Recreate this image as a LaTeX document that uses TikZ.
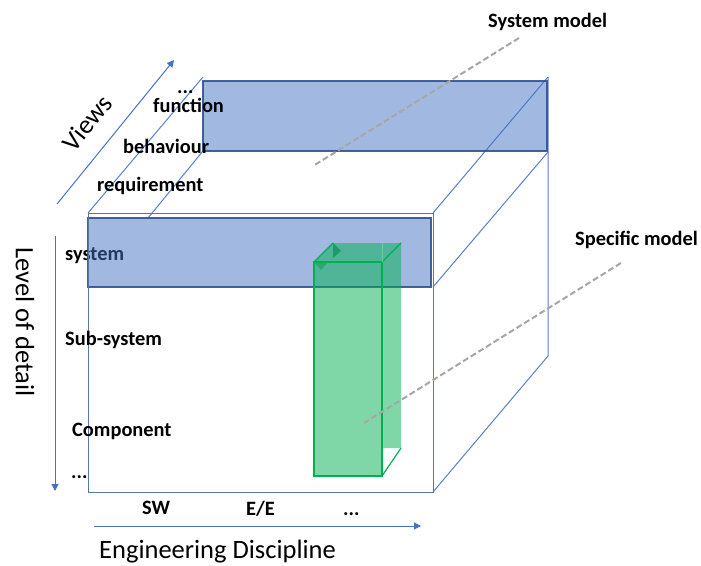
\documentclass[tikz,border=0pt]{standalone}
\usepackage{fontspec}
\setmainfont{Carlito}
\usetikzlibrary{arrows.meta}
\definecolor{cubeblue}{HTML}{4472C4}
\definecolor{bandedge}{HTML}{2F528F}
\definecolor{grn}{HTML}{00B050}
\definecolor{dashgray}{HTML}{A6A6A6}
\begin{document}
\begin{tikzpicture}[x=1pt,y=-1pt,
  cubeline/.style={draw=cubeblue!90, line width=1pt},
  band/.style={fill=cubeblue, fill opacity=0.5, draw=bandedge, draw opacity=0.9, line width=1.2pt},
  greenbox/.style={fill=grn, fill opacity=0.5},
  greenedge/.style={draw=grn, line width=1.2pt},
  leader/.style={draw=dashgray, line width=2pt, dash pattern=on 6pt off 3pt},
  axisarrow/.style={draw=cubeblue, line width=1pt, -{Triangle[length=7pt,width=7pt]}},
  lbl/.style={font=\fontsize{20.4}{24}\selectfont\bfseries, inner sep=0pt, anchor=base west},
  axlbl/.style={font=\fontsize{26.5}{30}\selectfont, inner sep=0pt},
]
\useasboundingbox (0,0) rectangle (701,565);
% cube corners
\coordinate (FTL) at (88,213);
\coordinate (FTR) at (433,213);
\coordinate (FBR) at (433,492);
\coordinate (FBL) at (88,492);
\coordinate (BTL) at (203,77);
\coordinate (BTR) at (548,77);
\coordinate (BBR) at (548,356);
\coordinate (BML) at (203,151);
\coordinate (BMR) at (548,152);
\coordinate (FML) at (148,218);
\coordinate (FMR) at (433,287);
% cube edges
\draw[cubeline] (FTL) -- (BTL);
\draw[cubeline] (FML) -- (BML);
\draw[cubeline] (FTR) -- (BTR);
\draw[cubeline] (FMR) -- (BMR);
\draw[cubeline] (BTR) -- (BBR) -- (FBR);
% text under the front band
\node[lbl] (sys) at (65,260) {system};
% bands
\path[band] (88,218) rectangle (431,287);
\path[band] (203,81) rectangle (547,151);
% green specific model box
\fill[greenbox] (314,262) -- (333,243) -- (401,243) -- (401,448) -- (382,448) -- (382,476) -- (314,476) -- cycle;
\fill[grn!80!black, opacity=0.6] (333,243) -- (341,251) -- (333,258) -- cycle;
\fill[grn!80!black, opacity=0.4] (314,262) -- (328,262) -- (321,270) -- cycle;
\draw[greenedge] (314,262) rectangle (382,476);
\draw[greenedge] (314,262) -- (333,243);
\draw[greenedge] (382,262) -- (401,243);
\draw[greenedge] (382,476) -- (401,448);
\draw[grn!60, line width=0.6pt] (382,243) -- (382,262);
% front face
\draw[draw=bandedge!80, line width=0.9pt] (FTL) rectangle (FBR);
% leaders
\coordinate (smA) at (519,38);
\coordinate (smB) at (313,166);
\coordinate (spA) at (621,263);
\coordinate (spB) at (364,423);
\draw[leader] (smA) -- (smB);
\draw[leader] (spA) -- (spB);
% axes
\coordinate (vA) at (57,204);
\coordinate (vB) at (174,60);
\coordinate (lA) at (55,236);
\coordinate (lB) at (55,491);
\coordinate (eA) at (94,526);
\coordinate (eB) at (421,526);
\draw[axisarrow] (vA) -- (vB);
\draw[axisarrow] (lA) -- (lB);
\draw[axisarrow] (eA) -- (eB);
% labels
\node[lbl] (vdots) at (177,93) {...};
\node[lbl] (func) at (153,112) {function};
\node[lbl] (beh) at (123,153) {behaviour};
\node[lbl] (req) at (97,191) {requirement};
\node[lbl] (subs) at (65,345) {Sub-system};
\node[lbl] (comp) at (72,436) {Component};
\node[lbl] (ldots) at (71,478) {...};
\node[lbl] (sw) at (142,514) {SW};
\node[lbl] (ee) at (246,515) {E/E};
\node[lbl] (edots) at (343,515) {...};
\node[lbl] (sysm) at (488,27) {System model};
\node[lbl] (spec) at (575,245) {Specific model};
\node[axlbl, anchor=base west] (eng) at (99,558) {Engineering Discipline};
\node[axlbl, rotate=-90, anchor=base west] (lod) at (16,247) {Level of detail};
\node[axlbl, rotate=51] (views) at (87,123) {Views};
\end{tikzpicture}
\end{document}
